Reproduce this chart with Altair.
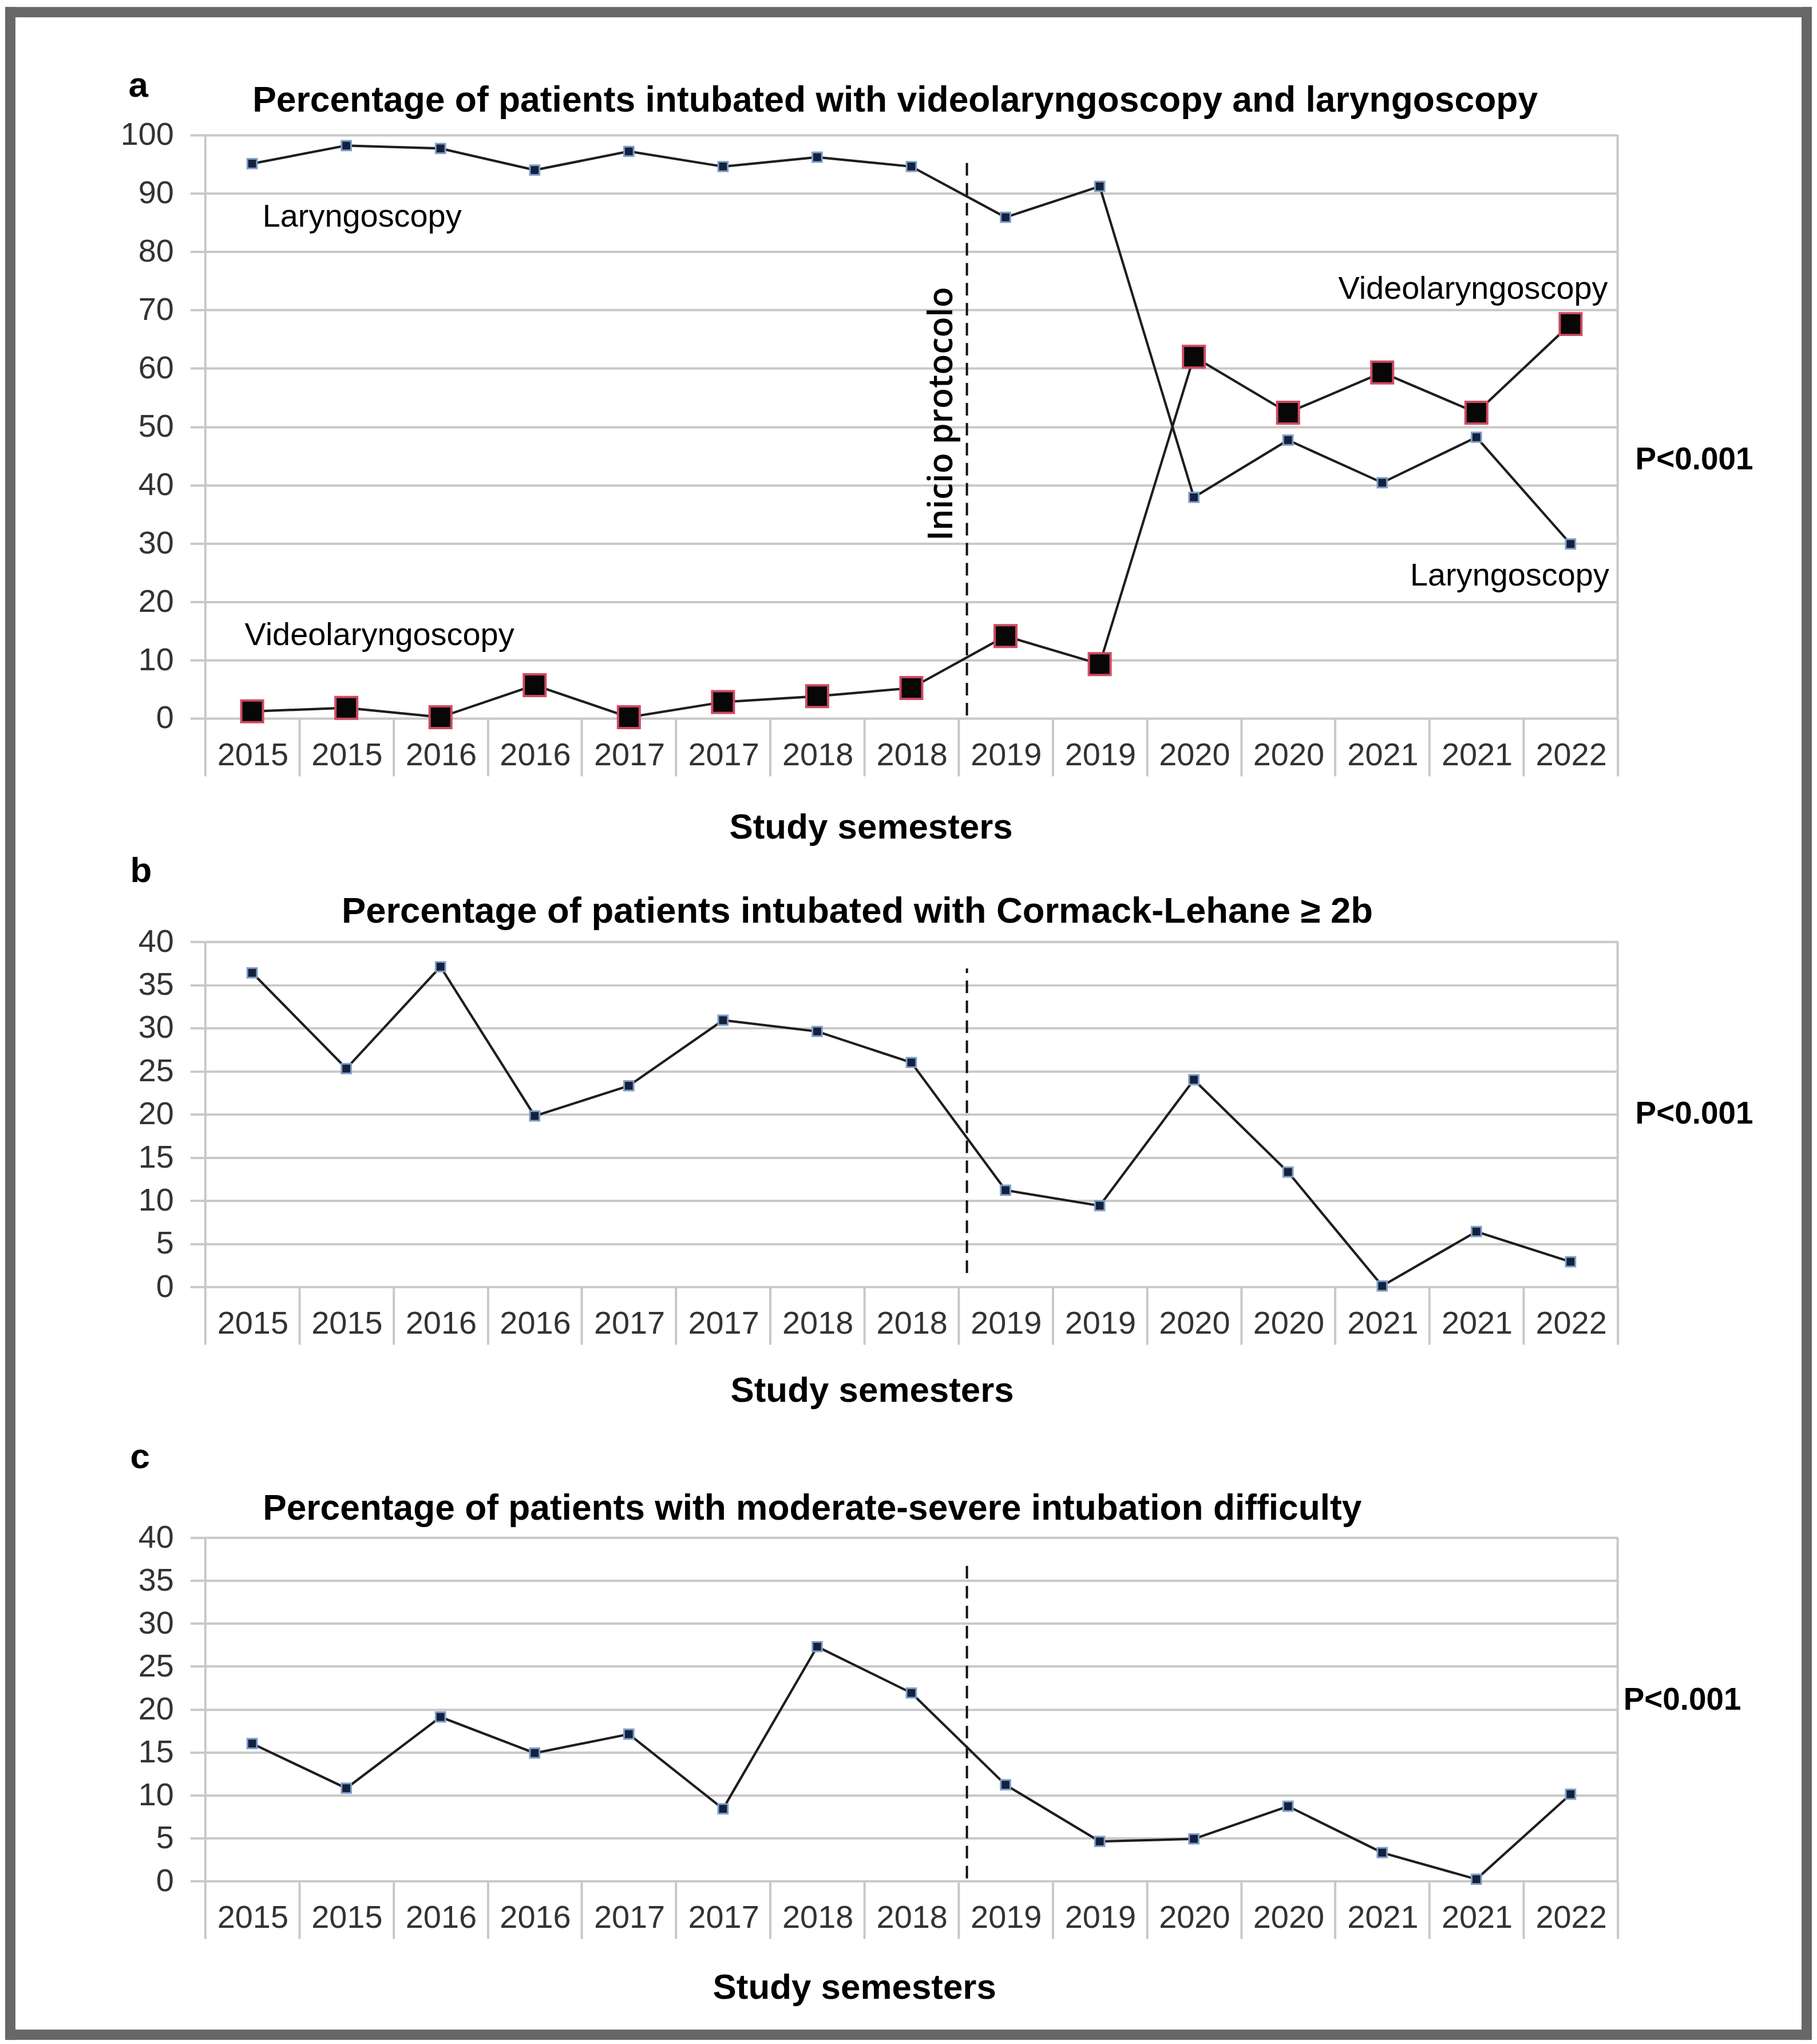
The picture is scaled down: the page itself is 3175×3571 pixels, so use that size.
import altair as alt
import pandas as pd

# ---------------- data ----------------
semesters = ["2015", "2015", "2016", "2016", "2017", "2017", "2018", "2018",
             "2019", "2019", "2020", "2020", "2021", "2021", "2022"]
laryngoscopy = [95.1, 98.2, 97.7, 94.0, 97.2, 94.6, 96.2, 94.6,
                85.9, 91.2, 37.9, 47.7, 40.4, 48.2, 29.9]
videolaryngoscopy = [1.2, 1.8, 0.2, 5.7, 0.2, 2.8, 3.8, 5.2,
                     14.1, 9.3, 62.0, 52.4, 59.3, 52.4, 67.6]
cormack_lehane = [36.4, 25.3, 37.1, 19.8, 23.3, 30.9, 29.6, 26.0,
                  11.2, 9.4, 24.0, 13.3, 0.1, 6.4, 2.9]
intubation_difficulty = [16.0, 10.8, 19.1, 14.9, 17.1, 8.4, 27.3, 21.9,
                         11.2, 4.6, 4.9, 8.7, 3.3, 0.2, 10.1]
y_ticks_a = list(range(0, 101, 10))
y_ticks_bc = list(range(0, 41, 5))
protocol_index = 8            # first semester of 2019
protocol_extent_a = [0.5, 96.3]
protocol_extent_b = [1.6, 36.9]
protocol_extent_c = [0.3, 37.1]

ids = [f"{s}#{i}" for i, s in enumerate(semesters)]

FONT = "Liberation Sans"
GRID = "#c8c8c8"
TICKLAB = "#333333"
FRAME = "#676767"
LINE = "#1e1e1e"
W = 2473
LABEL_SHIFT = 63


def x_axis():
    return alt.Axis(title=None, labelExpr="split(datum.label, '#')[0]", labelAngle=0,
                    labelFontSize=56, labelColor=TICKLAB, labelFont=FONT,
                    labelBaseline="alphabetic", labelPadding=-19, labelOffset=LABEL_SHIFT,
                    tickBand="extent", tickSize=101, tickColor=GRID, tickWidth=4,
                    domain=False, grid=False)


def y_axis(values):
    return alt.Axis(title=None, values=values, labelFontSize=56, labelColor=TICKLAB,
                    labelFont=FONT, tickSize=26, tickColor=GRID, tickWidth=4,
                    labelPadding=29, domainColor=GRID, domainWidth=4,
                    gridColor=GRID, gridWidth=4)


def xs(bp=None):
    if bp is None:
        return alt.X("sid:N", sort=ids)
    return alt.X("sid:N", sort=ids, bandPosition=bp)


def ptext(text, x, y, size, bold=False, align="left", angle=0, font=FONT,
          baseline="alphabetic", weight=None):
    w = weight if weight is not None else ("bold" if bold else "normal")
    return alt.Chart(pd.DataFrame({"t": [text]})).mark_text(
        align=align, baseline=baseline, fontSize=size,
        fontWeight=w, font=font, angle=angle,
        color="black").encode(x=alt.value(x), y=alt.value(y), text="t:N")


def dtext(text, idx, bp, v, size, align):
    return alt.Chart(pd.DataFrame({"sid": [ids[idx]], "v": [v], "t": [text]})).mark_text(
        align=align, baseline="alphabetic", fontSize=size, font=FONT, color="black"
    ).encode(x=xs(bp), y="v:Q", text="t:N")


def frame_rect(x1, x2, y1, y2):
    return alt.Chart(pd.DataFrame({"k": [0]})).mark_rect(
        color=FRAME, strokeWidth=0).encode(
        x=alt.value(x1), x2=alt.value(x2), y=alt.value(y1), y2=alt.value(y2))


def protocol_rule(extent):
    df = pd.DataFrame({"sid": [ids[protocol_index]], "y1": [extent[0]], "y2": [extent[1]]})
    return alt.Chart(df).mark_rule(color="#111111", strokeWidth=4, strokeDash=[22, 13]).encode(
        x=xs(0.09), y="y1:Q", y2="y2:Q")


def right_border(top):
    df = pd.DataFrame({"sid": [ids[-1]], "y1": [0], "y2": [top]})
    return alt.Chart(df).mark_rule(color=GRID, strokeWidth=4).encode(
        x=xs(1), y="y1:Q", y2="y2:Q")


def series_layers(df, field, yscale, yvals, big=False):
    line = alt.Chart(df).mark_line(color=LINE, strokeWidth=4.2).encode(
        x=alt.X("sid:N", sort=ids, scale=alt.Scale(paddingInner=0, paddingOuter=0), axis=x_axis()),
        y=alt.Y(f"{field}:Q", scale=yscale, axis=y_axis(yvals)))
    if big:
        pts = alt.Chart(df).mark_square(size=1450, filled=True, fill="#070707",
                                        stroke="#d04a62", strokeWidth=4, opacity=1).encode(
            x=xs(), y=f"{field}:Q")
    else:
        pts = alt.Chart(df).mark_square(size=280, filled=True, fill="#14213d",
                                        stroke="#7f9fc8", strokeWidth=3, opacity=1).encode(
            x=xs(), y=f"{field}:Q")
    return [line, pts]


# ---------------- panel a ----------------
df_a = pd.DataFrame({"sid": ids, "lar": laryngoscopy, "vid": videolaryngoscopy})
ys_a = alt.Scale(domain=[0, 100])

frame = [
    frame_rect(-350, -332, -224, 3334),
    frame_rect(2795, 2813, -224, 3334),
    frame_rect(-350, 2813, -224, -206),
    frame_rect(-350, 2813, 3316, 3334),
]

panel_a = alt.layer(
    *frame,
    right_border(100),
    protocol_rule(protocol_extent_a),
    *series_layers(df_a, "lar", ys_a, y_ticks_a),
    *series_layers(df_a, "vid", ys_a, y_ticks_a, big=True),
    dtext("Laryngoscopy", 0, 0.61, 84.3, 56, "left"),
    dtext("Videolaryngoscopy", 0, 0.42, 12.6, 56, "left"),
    dtext("Videolaryngoscopy", 14, 0.896, 71.9, 56, "right"),
    dtext("Laryngoscopy", 14, 0.91, 22.8, 56, "right"),
    ptext("Inicio protocolo", 1290, 488, 59, angle=270, align="center",
          baseline="middle", font="Open Sans", weight=600),
    ptext("a", -134, -67, 62, bold=True),
    ptext("Percentage of patients intubated with videolaryngoscopy and laryngoscopy",
          83, -41, 62.5, bold=True),
    ptext("P<0.001", 2504, 585, 55, bold=True),
    ptext("Study semesters", 1166, 1231, 62, bold=True, align="center"),
).properties(width=W, height=1021)

# ---------------- panel b ----------------
df_b = pd.DataFrame({"sid": ids, "cl": cormack_lehane})
ys_b = alt.Scale(domain=[0, 40])
panel_b = alt.layer(
    right_border(40),
    protocol_rule(protocol_extent_b),
    *series_layers(df_b, "cl", ys_b, y_ticks_bc),
    ptext("b", -131, -104, 62, bold=True),
    ptext("Percentage of patients intubated with Cormack-Lehane \u2265 2b", 239, -33, 63.5, bold=True),
    ptext("P<0.001", 2504, 318, 55, bold=True),
    ptext("Study semesters", 1168, 805, 62, bold=True, align="center"),
).properties(width=W, height=604)

# ---------------- panel c ----------------
df_c = pd.DataFrame({"sid": ids, "dif": intubation_difficulty})
ys_c = alt.Scale(domain=[0, 40], range=[649, 48])
panel_c = alt.layer(
    right_border(40),
    protocol_rule(protocol_extent_c),
    *series_layers(df_c, "dif", ys_c, y_ticks_bc),
    ptext("c", -131, -74, 62, bold=True),
    ptext("Percentage of patients with moderate-severe intubation difficulty", 101, 17, 62.4, bold=True),
    ptext("P<0.001", 2483, 349, 55, bold=True),
    ptext("Study semesters", 1137, 855, 62, bold=True, align="center"),
).properties(width=W, height=649)

chart = alt.vconcat(panel_a, panel_b, panel_c, spacing=391, bounds="flush").properties(
    padding=0, background="white"
).configure_view(stroke="transparent")

chart.save("out.html", embed_options={"renderer": "svg", "actions": False})
